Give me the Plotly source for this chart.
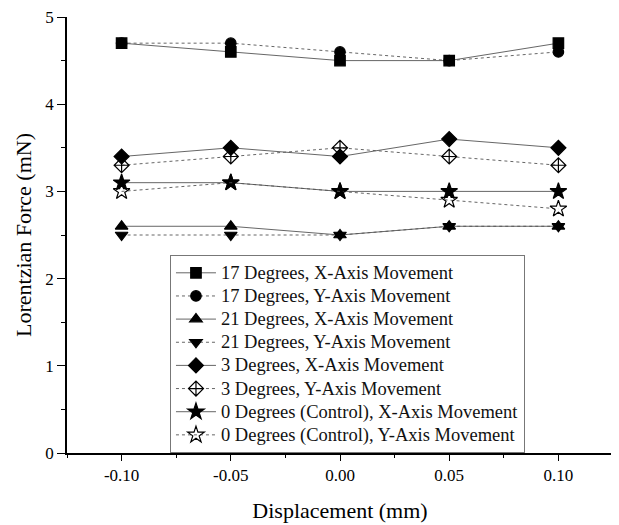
import plotly.graph_objects as go

displacement = [-0.10, -0.05, 0.00, 0.05, 0.10]
x_tick_labels = ["-0.10", "-0.05", "0.00", "0.05", "0.10"]

series_names = [
    "17 Degrees, X-Axis Movement",
    "17 Degrees, Y-Axis Movement",
    "21 Degrees, X-Axis Movement",
    "21 Degrees, Y-Axis Movement",
    "3 Degrees, X-Axis Movement",
    "3 Degrees, Y-Axis Movement",
    "0 Degrees (Control), X-Axis Movement",
    "0 Degrees (Control), Y-Axis Movement",
]

deg17_x = [4.7, 4.6, 4.5, 4.5, 4.7]
deg17_y = [4.7, 4.7, 4.6, 4.5, 4.6]
deg21_x = [2.6, 2.6, 2.5, 2.6, 2.6]
deg21_y = [2.5, 2.5, 2.5, 2.6, 2.6]
deg3_x = [3.4, 3.5, 3.4, 3.6, 3.5]
deg3_y = [3.3, 3.4, 3.5, 3.4, 3.3]
deg0_x = [3.1, 3.1, 3.0, 3.0, 3.0]
deg0_y = [3.0, 3.1, 3.0, 2.9, 2.8]

values = [deg17_x, deg17_y, deg21_x, deg21_y, deg3_x, deg3_y, deg0_x, deg0_y]
symbols = ["square", "circle", "triangle-up", "triangle-down", "diamond",
           "diamond-cross-open", "star", "star-open"]
sizes = [10.5, 10.5, 11, 11, 11.5, 11.5, 12.5, 12.5]
dashes = ["solid", "dot", "solid", "dot", "solid", "dot", "solid", "dot"]

FONT = "Liberation Serif, Times New Roman, serif"
LEGEND_TEXT_PX = 18.5

fig = go.Figure()
for name, vals, sym, sz, dash in zip(series_names, values, symbols, sizes, dashes):
    fig.add_trace(go.Scatter(
        x=displacement, y=vals,
        name=f'<span style="font-size:{LEGEND_TEXT_PX}px">{name}</span>',
        mode="lines+markers",
        line=dict(color="#555555", width=0.9, dash=dash),
        marker=dict(symbol=sym, size=sz, color="black",
                    line=dict(color="black", width=1.2)),
    ))

tickfont = dict(family=FONT, size=17, color="black")

# page body has an 8px margin, so the figure is sized to fill the rest of the window
fig.update_layout(
    width=611, height=517,
    margin=dict(l=59, r=6, t=8.5, b=72),
    paper_bgcolor="white", plot_bgcolor="white",
    font=dict(family=FONT, color="black"),
    xaxis=dict(
        range=[-0.125, 0.125], tickvals=displacement, ticktext=x_tick_labels,
        showline=True, linecolor="black", linewidth=1.5,
        ticks="outside", ticklen=6, tickwidth=1.3, tickcolor="black",
        minor=dict(tickvals=[-0.125, -0.075, -0.025, 0.025, 0.075, 0.125],
                   ticks="outside", ticklen=3, tickwidth=1.2, tickcolor="black"),
        showgrid=False, zeroline=False, tickfont=tickfont, automargin=False,
        ticklabeloverflow="allow",
        title=dict(text="Displacement (mm)", font=dict(family=FONT, size=22), standoff=18),
    ),
    yaxis=dict(
        range=[0, 5], dtick=1, tick0=0,
        showline=True, linecolor="black", linewidth=1.5,
        ticks="outside", ticklen=8, tickwidth=1.3, tickcolor="black",
        minor=dict(dtick=0.5, ticks="outside", ticklen=4, tickwidth=1.2, tickcolor="black"),
        showgrid=False, zeroline=False, tickfont=tickfont, automargin=False,
        ticklabeloverflow="allow",
        title=dict(text="Lorentzian Force (mN)", font=dict(family=FONT, size=22), standoff=8),
    ),
    legend=dict(
        x=0.1886, y=0.4536, xanchor="left", yanchor="top",
        bgcolor="white", bordercolor="#777777", borderwidth=1,
        font=dict(family=FONT, size=15.5, color="#111111"),
        tracegroupgap=0, itemwidth=40,
    ),
    showlegend=True,
)

fig.write_html("out.html")
